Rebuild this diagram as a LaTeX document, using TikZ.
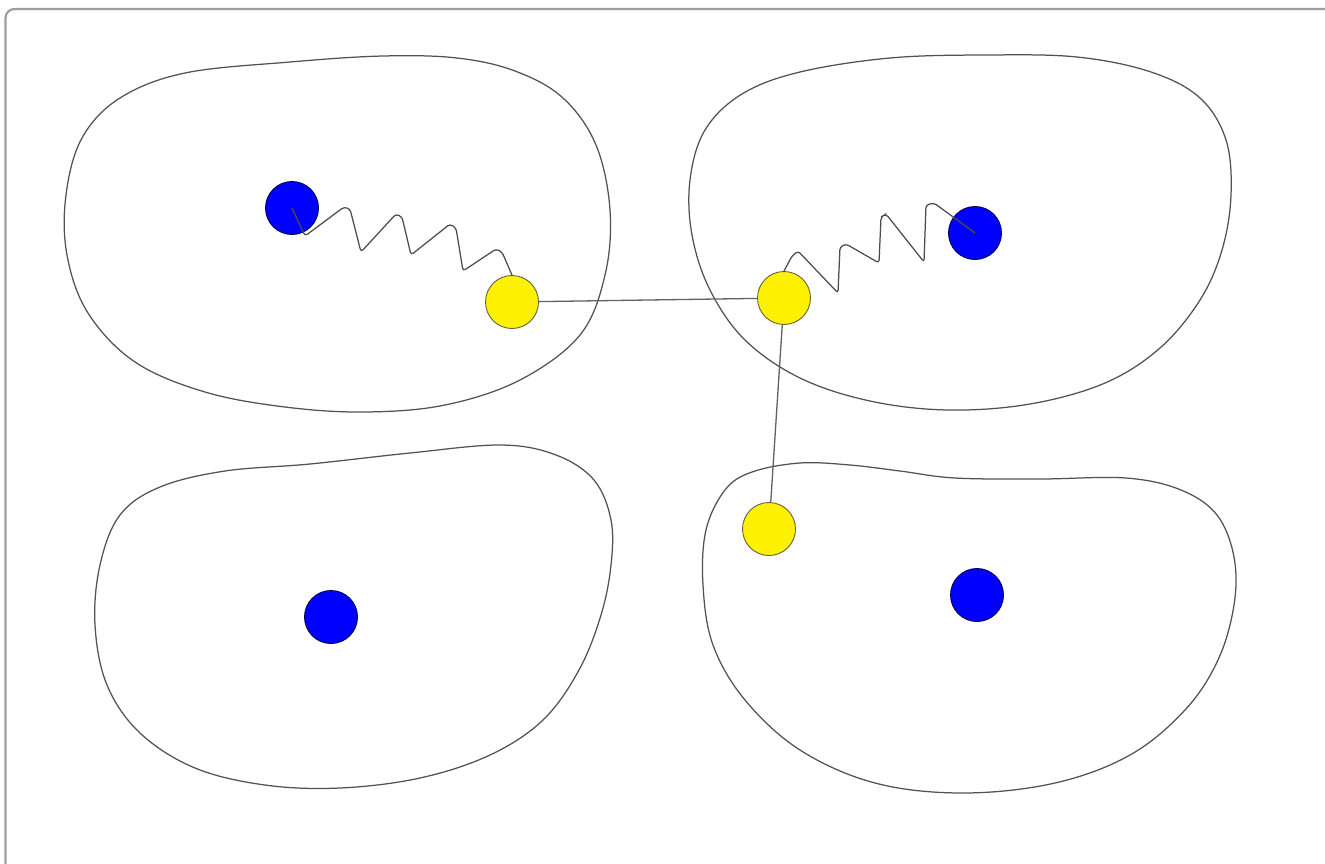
\documentclass[tikz,border=0pt]{standalone}
\begin{document}
\begin{tikzpicture}[x=1pt,y=-1pt,
  blob/.style={draw=black!68, line width=1.25pt},
  bluedot/.style={circle, fill=blue, draw=blue!35!black, line width=0.9pt, minimum size=53pt, inner sep=0pt},
  yellowdot/.style={circle, fill=yellow, draw=yellow!30!black, line width=0.9pt, minimum size=53pt, inner sep=0pt},
  link/.style={draw=black!62, line width=1.3pt},
  spring/.style={draw=black!70, line width=1.25pt, rounded corners=3pt},
  frame/.style={draw=black!38, line width=2.2pt, rounded corners=9pt}]
\useasboundingbox (0,0) rectangle (1325,863);
\clip (0,0) rectangle (1325,863);
\draw[frame] (5.5,9) rectangle (1345,890);

% blobs
\draw[blob] plot[smooth cycle, tension=0.6] coordinates {
  (383,56) (457,58) (515,71) (563,98) (596,145) (610,210) (605,275) (580,335)
  (520,380) (445,405) (365,412) (285,407) (205,392) (135,362) (88,313) (67,255)
  (66,195) (82,138) (120,98) (185,73) (290,62)};
\draw[blob] plot[smooth cycle, tension=0.6] coordinates {
  (985,55) (1077,57) (1151,72) (1200,98) (1226,140) (1231,195) (1222,250) (1200,300)
  (1160,348) (1105,383) (1030,404) (948,410) (870,401) (800,378) (745,340) (710,290)
  (692,235) (690,180) (705,130) (742,94) (800,72) (890,58)};
\draw[blob] plot[smooth cycle, tension=0.6] coordinates {
  (501,445) (556,455) (594,480) (611,520) (611,565) (601,615) (579,670) (543,720)
  (490,755) (420,778) (340,788) (265,785) (195,768) (140,733) (107,685) (95,625)
  (100,565) (120,515) (160,487) (225,471) (310,464) (410,453)};
\draw[blob] plot[smooth cycle, tension=0.6] coordinates {
  (752,472) (800,463) (850,465) (900,471) (955,478) (1040,479) (1126,478) (1181,490)
  (1217,515) (1234,557) (1234,605) (1218,660) (1185,710) (1130,755) (1055,783) (963,793)
  (875,783) (800,750) (745,700) (713,645) (703,585) (706,530) (725,490)};

% particles
\node[bluedot] (b1) at (292,208) {};
\node[bluedot] (b2) at (975,233) {};
\node[bluedot] (b3) at (331,617) {};
\node[bluedot] (b4) at (977,595) {};
\node[yellowdot] (y1) at (512,302) {};
\node[yellowdot] (y2) at (784,298) {};
\node[yellowdot] (y3) at (769,529) {};

% links
\draw[link] (y1) -- (y2);
\draw[link] (y2) -- (y3);

% springs
\draw[spring] (b1.center) -- (305,236) -- (344,207) -- (350,209) -- (361,252) -- (396,214)
  -- (402,217) -- (411,255) -- (450,224) -- (456,228) -- (463,271) -- (496,249) -- (502,252)
  -- (y1.north);
\draw[spring] (y2.north) -- (792,256) -- (798,251) -- (838,293) -- (840,247) -- (846,244)
  -- (879,263) -- (881,217) -- (886,214) -- (924,262) -- (926,205) -- (934,203)
  -- (b2.center);
\end{tikzpicture}
\end{document}
